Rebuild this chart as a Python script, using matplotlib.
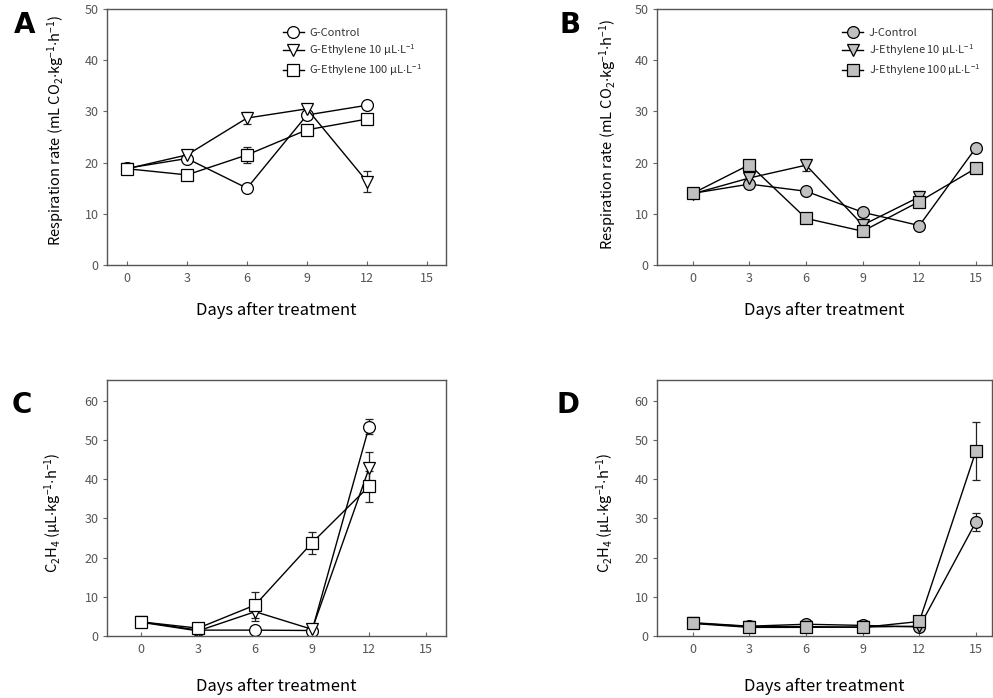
import matplotlib
matplotlib.use('Agg')
import matplotlib.pyplot as plt
from matplotlib.lines import Line2D

plt.rcParams['font.family'] = ['Noto Sans CJK KR', 'DejaVu Sans']
plt.rcParams['mathtext.default'] = 'regular'

# --- data ---
days = [0, 3, 6, 9, 12, 15]

# A: respiration, G cultivar
g_ctrl = [18.9, 20.8, 15.0, 29.3, 31.2]
g_ctrl_err = [0.4, 0.4, 0.4, 0.8, 0.4]
g_e10 = [18.8, 21.5, 28.7, 30.5, 16.3]
g_e10_err = [0.5, 0.5, 1.2, 0.8, 2.0]
g_e100 = [18.8, 17.6, 21.5, 26.4, 28.5]
g_e100_err = [0.4, 0.4, 1.6, 0.5, 0.5]

# B: respiration, J cultivar
j_ctrl = [14.0, 15.8, 14.4, 10.3, 7.7, 22.9]
j_ctrl_err = [0.4, 0.4, 0.4, 0.4, 0.4, 0.4]
j_e10 = [13.9, 17.0, 19.5, 7.8, 13.3]
j_e10_err = [0.6, 0.5, 1.1, 0.5, 1.1]
j_e100 = [14.0, 19.6, 9.1, 6.6, 12.4, 18.9]
j_e100_err = [0.5, 1.0, 0.4, 0.4, 0.6, 0.4]

# C: ethylene production, G cultivar
gc_ctrl = [3.6, 1.5, 1.5, 1.4, 53.4]
gc_ctrl_err = [0.5, 0.3, 0.3, 0.3, 2.0]
gc_e10 = [3.5, 1.3, 6.2, 1.7, 42.8]
gc_e10_err = [0.5, 0.3, 2.5, 0.3, 4.2]
gc_e100 = [3.6, 2.0, 7.9, 23.8, 38.2]
gc_e100_err = [0.6, 0.3, 3.2, 2.8, 3.9]

# D: ethylene production, J cultivar
jc_ctrl = [3.4, 2.5, 3.0, 2.7, 2.3, 29.1]
jc_ctrl_err = [0.5, 0.3, 0.4, 0.4, 0.3, 2.4]
jc_e10 = [3.2, 2.2, 2.2, 2.3, 2.5]
jc_e10_err = [0.5, 0.6, 0.7, 0.5, 0.3]
jc_e100 = [3.3, 2.4, 2.4, 2.2, 3.7, 47.2]
jc_e100_err = [0.5, 0.3, 0.5, 0.4, 0.4, 7.5]

xticks = [0, 3, 6, 9, 12, 15]
resp_label = r'Respiration rate (mL CO$_2$$\cdot$kg$^{-1}$$\cdot$h$^{-1}$)'
eth_label = r'C$_2$H$_4$ ($\mu$L$\cdot$kg$^{-1}$$\cdot$h$^{-1}$)'
xlab = 'Days after treatment'
leg_g = ['G-Control', r'G-Ethylene 10 $\mu$L$\cdot$L$^{-1}$', r'G-Ethylene 100 $\mu$L$\cdot$L$^{-1}$']
leg_j = ['J-Control', r'J-Ethylene 10 $\mu$L$\cdot$L$^{-1}$', r'J-Ethylene 100 $\mu$L$\cdot$L$^{-1}$']

fig = plt.figure(figsize=(9.93, 6.98), dpi=100)

W = 993.0
H = 698.0


def make_ax(left, right, top, bottom):
    return fig.add_axes([left / W, 1 - bottom / H, (right - left) / W, (bottom - top) / H])


def style(ax, xlim, ylim, yticks, ylabel, ylab_pos, xpad):
    ax.set_xlim(*xlim)
    ax.set_ylim(*ylim)
    ax.set_xticks(xticks)
    ax.set_yticks(yticks)
    for s in ax.spines.values():
        s.set_color('#555555')
        s.set_linewidth(1.0)
    ax.tick_params(axis='x', direction='in', length=3, color='#666666',
                   labelsize=9, labelcolor='#555555', pad=5)
    ax.tick_params(axis='y', direction='out', length=3, color='#666666',
                   labelsize=9, labelcolor='#555555', pad=3)
    ax.set_ylabel(ylabel, fontsize=10.5, color='black', va='center', ha='center')
    ax.yaxis.set_label_coords(*ylab_pos)
    ax.set_xlabel(xlab, fontsize=12, color='black', labelpad=xpad)


def series(ax, x, y, err, marker, fill):
    ax.errorbar(x[:len(y)], y, yerr=err, fmt='-', marker=marker, ms=8.5,
                mfc=fill, mec='black', mew=0.9, color='black', lw=1.0,
                ecolor='#222222', elinewidth=0.9, capsize=3, capthick=0.9)


def legend(ax, labels, fill, anchor):
    handles = [Line2D([], [], color='black', lw=1.0, marker=m, ms=8.5,
                      mfc=fill, mec='black', mew=0.9) for m in ('o', 'v', 's')]
    leg = ax.legend(handles, labels, loc='upper left', bbox_to_anchor=anchor,
                    frameon=False, fontsize=8, handlelength=1.9,
                    handletextpad=0.5, labelspacing=0.4, borderaxespad=0)
    for t in leg.get_texts():
        t.set_color('#333333')


gray = '#c0c0c0'

# A
axA = make_ax(107, 446, 9, 265)
series(axA, days, g_ctrl, g_ctrl_err, 'o', 'white')
series(axA, days, g_e10, g_e10_err, 'v', 'white')
series(axA, days, g_e100, g_e100_err, 's', 'white')
style(axA, (-1.0, 15.95), (0, 50), [0, 10, 20, 30, 40, 50], resp_label,
      ((56 - 107) / 339, (265 - 130) / 256), 12)
legend(axA, leg_g, 'white', (0.505, 0.945))

# B
axB = make_ax(657, 992, 9, 265)
series(axB, days, j_ctrl, j_ctrl_err, 'o', gray)
series(axB, days, j_e10, j_e10_err, 'v', gray)
series(axB, days, j_e100, j_e100_err, 's', gray)
style(axB, (-1.9, 15.85), (0, 50), [0, 10, 20, 30, 40, 50], resp_label,
      ((608 - 657) / 335, (265 - 134) / 256), 12)
legend(axB, leg_j, gray, (0.54, 0.945))

# C
axC = make_ax(107, 446, 380, 636)
series(axC, days, gc_ctrl, gc_ctrl_err, 'o', 'white')
series(axC, days, gc_e10, gc_e10_err, 'v', 'white')
series(axC, days, gc_e100, gc_e100_err, 's', 'white')
style(axC, (-1.8, 16.05), (0, 65.3), [0, 10, 20, 30, 40, 50, 60], eth_label,
      ((53 - 107) / 339, (636 - 513) / 256), 16)

# D
axD = make_ax(657, 992, 380, 636)
series(axD, days, jc_ctrl, jc_ctrl_err, 'o', gray)
series(axD, days, jc_e10, jc_e10_err, 'v', gray)
series(axD, days, jc_e100, jc_e100_err, 's', gray)
style(axD, (-1.9, 15.85), (0, 65.3), [0, 10, 20, 30, 40, 50, 60], eth_label,
      ((605 - 657) / 335, (636 - 513) / 256), 16)

for letter, x, y in (('A', 25, 25), ('B', 570, 25), ('C', 22, 405), ('D', 568, 405)):
    fig.text(x / W, 1 - y / H, letter, fontsize=20, fontweight='bold',
             ha='center', va='center', family='DejaVu Sans')

fig.savefig('out.png', dpi=100)
